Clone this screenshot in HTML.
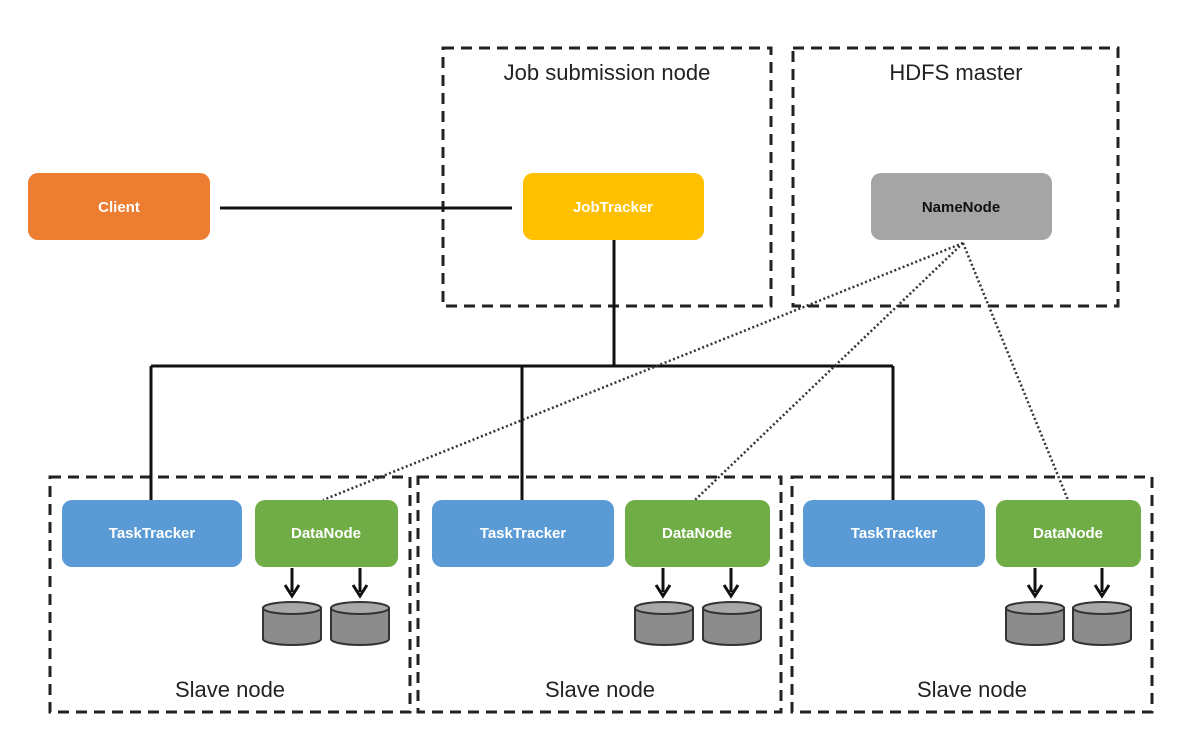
<!DOCTYPE html>
<html><head><meta charset="utf-8"><style>
html,body{margin:0;padding:0;background:#fff;}
svg{display:block;}
text{font-family:"Liberation Sans",sans-serif;}
.lbl{font-size:22px;fill:#222;text-anchor:middle;}
.nt{font-size:15px;font-weight:bold;text-anchor:middle;fill:#fff;}
.dash{fill:none;stroke:#222;stroke-width:3;stroke-dasharray:11 7;}
.ln{stroke:#111;stroke-width:3;fill:none;}
.dot{stroke:#333;stroke-width:2.5;stroke-dasharray:2 2.5;fill:none;}
.cyl{fill:#8c8c8c;stroke:#333;stroke-width:2;}
.cyt{fill:#a8a8a8;stroke:#333;stroke-width:2;}
</style></head><body>
<svg width="1202" height="756" viewBox="0 0 1202 756" xmlns="http://www.w3.org/2000/svg">
<defs>
<g id="cy">
<path class="cyl" d="M0,8 L0,39 A29,6 0 0 0 58,39 L58,8 Z"/>
<ellipse class="cyt" cx="29" cy="8" rx="29" ry="6"/>
</g>
<g id="ar">
<line x1="0" y1="0" x2="0" y2="24" stroke="#111" stroke-width="3"/>
<path d="M-7,17 L0,28 L7,17" fill="none" stroke="#111" stroke-width="3"/>
</g>
</defs>
<rect class="dash" x="443" y="48" width="328" height="258"/>
<rect class="dash" x="793" y="48" width="325" height="258"/>
<rect class="dash" x="50" y="477" width="360" height="235"/>
<rect class="dash" x="418" y="477" width="363" height="235"/>
<rect class="dash" x="792" y="477" width="360" height="235"/>
<text class="lbl" x="607" y="80">Job submission node</text>
<text class="lbl" x="956" y="80">HDFS master</text>
<text class="lbl" x="230" y="697">Slave node</text>
<text class="lbl" x="600" y="697">Slave node</text>
<text class="lbl" x="972" y="697">Slave node</text>
<line class="ln" x1="220" y1="208" x2="512" y2="208"/>
<polyline class="ln" points="614,240 614,366"/>
<line class="ln" x1="151" y1="366" x2="893" y2="366"/>
<line class="ln" x1="151" y1="366" x2="151" y2="500"/>
<line class="ln" x1="522" y1="366" x2="522" y2="500"/>
<line class="ln" x1="893" y1="366" x2="893" y2="500"/>
<line class="dot" x1="963" y1="243" x2="323" y2="500"/>
<line class="dot" x1="963" y1="243" x2="695" y2="500"/>
<line class="dot" x1="963" y1="243" x2="1068" y2="500"/>
<rect x="28" y="173" width="182" height="67" rx="10" fill="#ED7D31"/>
<text class="nt" x="119" y="212">Client</text>
<rect x="523" y="173" width="181" height="67" rx="10" fill="#FFC000"/>
<text class="nt" x="613" y="212">JobTracker</text>
<rect x="871" y="173" width="181" height="67" rx="10" fill="#A5A5A5"/>
<text class="nt" x="961" y="212" style="fill:#111">NameNode</text>
<rect x="62" y="500" width="180" height="67" rx="10" fill="#5B9BD5"/>
<text class="nt" x="152" y="538">TaskTracker</text>
<rect x="255" y="500" width="143" height="67" rx="10" fill="#70AD47"/>
<text class="nt" x="326" y="538">DataNode</text>
<rect x="432" y="500" width="182" height="67" rx="10" fill="#5B9BD5"/>
<text class="nt" x="523" y="538">TaskTracker</text>
<rect x="625" y="500" width="145" height="67" rx="10" fill="#70AD47"/>
<text class="nt" x="697" y="538">DataNode</text>
<rect x="803" y="500" width="182" height="67" rx="10" fill="#5B9BD5"/>
<text class="nt" x="894" y="538">TaskTracker</text>
<rect x="996" y="500" width="145" height="67" rx="10" fill="#70AD47"/>
<text class="nt" x="1068" y="538">DataNode</text>
<use href="#ar" x="292" y="568"/>
<use href="#ar" x="360" y="568"/>
<use href="#ar" x="663" y="568"/>
<use href="#ar" x="731" y="568"/>
<use href="#ar" x="1035" y="568"/>
<use href="#ar" x="1102" y="568"/>
<use href="#cy" x="263" y="600"/>
<use href="#cy" x="331" y="600"/>
<use href="#cy" x="635" y="600"/>
<use href="#cy" x="703" y="600"/>
<use href="#cy" x="1006" y="600"/>
<use href="#cy" x="1073" y="600"/>
</svg>
</body></html>
